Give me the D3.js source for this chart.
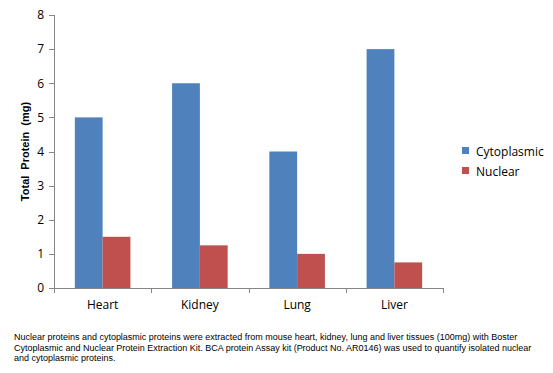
<!DOCTYPE html>
<html>
<head>
<meta charset="utf-8">
<script src="https://cdn.jsdelivr.net/npm/d3@7"></script>
<style>
  body { margin: 0; background: #fff; }
  svg { display: block; }
  text { font-family: "Open Sans", "DejaVu Sans", sans-serif; fill: #000; }
</style>
</head>
<body>
<svg width="553" height="373"></svg>
<script>
const TISSUES = ['Heart', 'Kidney', 'Lung', 'Liver'];
const CYTOPLASMIC = [5, 6, 4, 7];
const NUCLEAR = [1.5, 1.25, 1.0, 0.75];
const SERIES_NAMES = ['Cytoplasmic', 'Nuclear'];
const Y_TICKS = [0, 1, 2, 3, 4, 5, 6, 7, 8];
const CAPTION = [
  'Nuclear proteins and cytoplasmic proteins were extracted from mouse heart, kidney, lung and liver tissues (100mg) with Boster',
  'Cytoplasmic and Nuclear Protein Extraction Kit. BCA protein Assay kit (Product No. AR0146) was used to quantify isolated nuclear',
  'and cytoplasmic proteins.'
];

const COLORS = ['#4f81bd', '#c0504d'];
const AXIS_COLOR = '#868686';

let svg = d3.select('svg');
let plot = {left: 54, right: 443, top: 15, bottom: 288};

let rows = TISSUES.map((t, i) => ({tissue: t, values: [CYTOPLASMIC[i], NUCLEAR[i]]}));

// excel style: gap width 150% of a bar
let x = d3.scaleBand()
  .domain(TISSUES)
  .range([plot.left, plot.right])
  .paddingInner(3 / 7)
  .paddingOuter(1.5 / 7);
let xs = d3.scaleBand().domain(d3.range(SERIES_NAMES.length)).range([0, x.bandwidth()]);
let y = d3.scaleLinear().domain([0, 8]).range([plot.bottom, plot.top]);

// bars
let groups = svg.append('g').selectAll('g')
  .data(rows)
  .enter()
  .append('g')
  .attr('transform', (d) => 'translate(' + x(d.tissue) + ',0)');
groups.selectAll('rect')
  .data((d) => d.values)
  .enter()
  .append('rect')
  .attr('x', (d, i) => xs(i))
  .attr('y', (d) => y(d))
  .attr('width', xs.bandwidth())
  .attr('height', (d) => y(0) - y(d))
  .attr('fill', (d, i) => COLORS[i]);

// y axis
let yAxis = svg.append('g')
  .attr('transform', 'translate(' + plot.left + ',0)')
  .call(d3.axisLeft(y).tickValues(Y_TICKS).tickSize(5).tickPadding(5).tickFormat(d3.format('d')));
yAxis.selectAll('path, line').attr('stroke', AXIS_COLOR).attr('shape-rendering', 'crispEdges');
yAxis.select('.domain').attr('d', 'M0.5,' + plot.top + 'V' + plot.bottom);
yAxis.selectAll('text').style('font-size', '12px').attr('fill', '#000');

// x axis: ticks on category boundaries
let step = x.step();
let bounds = d3.range(TISSUES.length + 1).map((i) => plot.left + i * step);
let xAxis = svg.append('g').attr('class', 'x-axis');
xAxis.append('line')
  .attr('x1', plot.left).attr('x2', plot.right)
  .attr('y1', plot.bottom + 0.5).attr('y2', plot.bottom + 0.5)
  .attr('stroke', AXIS_COLOR);
xAxis.selectAll('.tick')
  .data(bounds)
  .enter()
  .append('line')
  .attr('x1', (d) => Math.round(d) + 0.5).attr('x2', (d) => Math.round(d) + 0.5)
  .attr('y1', plot.bottom).attr('y2', plot.bottom + 5)
  .attr('stroke', AXIS_COLOR);
xAxis.selectAll('text')
  .data(TISSUES)
  .enter()
  .append('text')
  .attr('x', (d) => x(d) + x.bandwidth() / 2)
  .attr('y', 309)
  .attr('text-anchor', 'middle')
  .style('font-size', '12px')
  .text((d) => d);

// y axis title
svg.append('text')
  .attr('transform', 'translate(29,' + ((plot.top + plot.bottom) / 2) + ') rotate(-90)')
  .attr('text-anchor', 'middle')
  .style('font-size', '11px')
  .style('font-weight', 'bold')
  .style('font-family', '"Liberation Sans", Arial, sans-serif')
  .style('word-spacing', '3px')
  .text('Total Protein (mg)');

// legend
let legend = svg.append('g').attr('transform', 'translate(462,147)');
let items = legend.selectAll('g')
  .data(SERIES_NAMES)
  .enter()
  .append('g')
  .attr('transform', (d, i) => 'translate(0,' + i * 20 + ')');
items.append('rect')
  .attr('width', 7).attr('height', 7)
  .attr('fill', (d, i) => COLORS[i]);
items.append('text')
  .attr('x', 14).attr('y', 8.5)
  .style('font-size', '12px')
  .text((d) => d);

// caption - font size picked so the first line is ~504px wide
let captionText = svg.append('g').selectAll('text')
  .data(CAPTION)
  .enter()
  .append('text')
  .attr('x', 14)
  .attr('y', (d, i) => 340 + i * 10.5)
  .style('font-size', '10px')
  .style('font-family', '"Liberation Sans", Arial, sans-serif')
  .text((d) => d);
let natural = captionText.node().getComputedTextLength();
let capSize = Math.min(10, 10 * 504 / natural);
captionText.style('font-size', capSize + 'px');
</script>
</body>
</html>
